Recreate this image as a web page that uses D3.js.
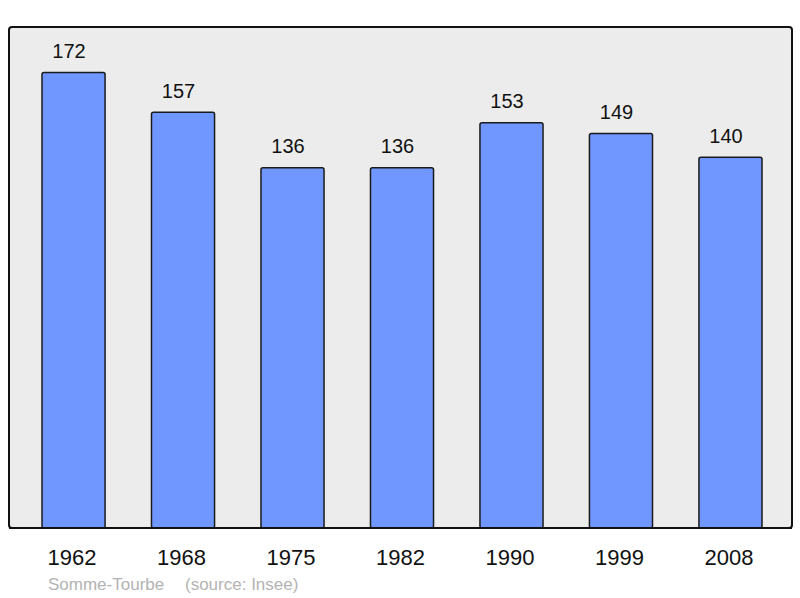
<!DOCTYPE html>
<html>
<head>
<meta charset="utf-8">
<script src="https://cdn.jsdelivr.net/npm/d3@7"></script>
<style>
  body { margin: 0; background: #fff; }
  svg { display: block; }
</style>
</head>
<body>
<div id="chart"></div>
<script>
const years = ['1962', '1968', '1975', '1982', '1990', '1999', '2008']
const population = [172, 157, 136, 136, 153, 149, 140]
const commune = 'Somme-Tourbe'
const source = '(source: Insee)'

const width = 800
const height = 598
const panel = { left: 9, top: 27, right: 792, bottom: 528 }
const font = 'Liberation Sans, Arial, sans-serif'

const svg = d3.select('#chart')
  .append('svg')
  .attr('width', width)
  .attr('height', height)

// Background frame
svg.append('rect')
  .attr('x', panel.left)
  .attr('y', panel.top)
  .attr('width', panel.right - panel.left)
  .attr('height', panel.bottom - panel.top)
  .attr('rx', 3)
  .attr('fill', '#ececec')
  .attr('stroke', '#111')
  .attr('stroke-width', 2)

const x = d3.scaleBand()
  .domain(years)
  .range([42, 762])
  .paddingInner(0.424)
  .paddingOuter(0)

const y = d3.scaleLinear()
  .domain([0, d3.max(population) * 1.1])
  .range([panel.bottom, panel.top])

const data = years.map((yr, i) => ({ year: yr, value: population[i] }))

// Bars
svg.append('g')
  .selectAll('rect')
  .data(data)
  .enter()
  .append('rect')
  .attr('x', (d) => x(d.year))
  .attr('y', (d) => y(d.value))
  .attr('width', x.bandwidth())
  .attr('height', (d) => y(0) - y(d.value))
  .attr('rx', 2)
  .attr('fill', '#7097ff')
  .attr('stroke', '#1a1a1a')
  .attr('stroke-width', 1.5)

// redraw the frame's bottom line over bar bottoms
svg.append('line')
  .attr('x1', panel.left)
  .attr('x2', panel.right)
  .attr('y1', panel.bottom)
  .attr('y2', panel.bottom)
  .attr('stroke', '#111')
  .attr('stroke-width', 2)

// Value labels
svg.append('g')
  .selectAll('text')
  .data(data)
  .enter()
  .append('text')
  .attr('x', (d) => x(d.year) + x.bandwidth() / 2 - 4.5)
  .attr('y', (d) => y(d.value) - 14.5)
  .attr('text-anchor', 'middle')
  .attr('font-family', font)
  .attr('font-size', 20)
  .attr('fill', '#111')
  .text((d) => d.value)

// Year labels
svg.append('g')
  .selectAll('text')
  .data(data)
  .enter()
  .append('text')
  .attr('x', (d) => x(d.year) + x.bandwidth() / 2 - 1.5)
  .attr('y', 565)
  .attr('text-anchor', 'middle')
  .attr('font-family', font)
  .attr('font-size', 22)
  .attr('fill', '#111')
  .text((d) => d.year)

// Footer
const footer = svg.append('g')
  .attr('font-family', font)
  .attr('font-size', 17)
  .attr('fill', '#b3b3b3')

footer.append('text')
  .attr('x', 48)
  .attr('y', 590)
  .text(commune)

footer.append('text')
  .attr('x', 185)
  .attr('y', 590)
  .text(source)
</script>
</body>
</html>
